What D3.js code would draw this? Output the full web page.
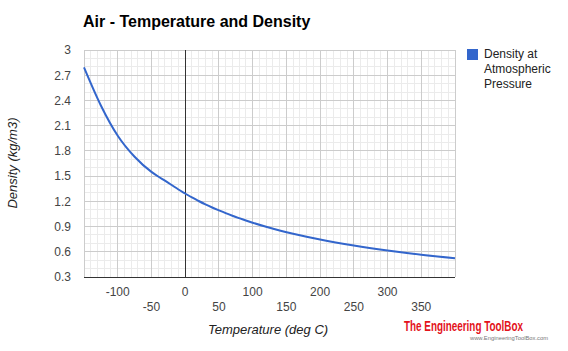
<!DOCTYPE html>
<html lang="en">
<head>
    <meta charset="UTF-8">
    <title>Air - Temperature and Density</title>
    <script src="https://cdn.jsdelivr.net/npm/d3@7/dist/d3.min.js"></script>
    <style>
        body { margin: 0; background: #fff; }
        text { font-family: Arial, "Liberation Sans", sans-serif; }
    </style>
</head>
<body>
    <svg width="568" height="351" id="mainsvg"></svg>
    <script>
        // temperature (deg C) and air density (kg/m3) at atmospheric pressure
        const temps = [-150, -125, -100, -75, -50, -40, -30, -20, -10, 0, 10, 20, 30, 40, 50, 60, 70, 80, 90, 100,
                       120, 140, 160, 180, 200, 250, 300, 350, 400]
        const density = [2.793, 2.340, 1.980, 1.730, 1.550, 1.495, 1.446, 1.394, 1.341, 1.293, 1.246, 1.204,
                         1.164, 1.127, 1.093, 1.060, 1.029, 1.000, 0.972, 0.946, 0.898, 0.854, 0.815, 0.779,
                         0.746, 0.675, 0.616, 0.566, 0.524]
        const xTicks = [-100, -50, 0, 50, 100, 150, 200, 250, 300, 350]
        const yTicks = [0.3, 0.6, 0.9, 1.2, 1.5, 1.8, 2.1, 2.4, 2.7, 3]
        const seriesName = ['Density at', 'Atmospheric', 'Pressure']

        const data = temps.map((t, i) => ({t: t, d: density[i]}))

        const svg = d3.select('#mainsvg')
        const plotL = 84, plotR = 455, plotT = 50, plotB = 277

        const x = d3.scaleLinear().domain([-150, 400]).range([plotL, plotR])
        const y = d3.scaleLinear().domain([0.3, 3]).range([plotB, plotT])

        // minor grid
        const g = svg.append('g')
        g.selectAll('.vminor').data(d3.range(-150, 401, 10))
            .join('line')
            .attr('x1', d => x(d)).attr('x2', d => x(d))
            .attr('y1', plotT).attr('y2', plotB)
            .attr('stroke', '#ebebeb').attr('shape-rendering', 'crispEdges')
        g.selectAll('.hminor').data(d3.range(3, 30, 1).map(d => d / 10))
            .join('line')
            .attr('x1', plotL).attr('x2', plotR)
            .attr('y1', d => y(d)).attr('y2', d => y(d))
            .attr('stroke', '#ebebeb').attr('shape-rendering', 'crispEdges')

        // major grid
        g.selectAll('.vmajor').data(d3.range(-150, 401, 50))
            .join('line')
            .attr('x1', d => x(d)).attr('x2', d => x(d))
            .attr('y1', plotT).attr('y2', plotB)
            .attr('stroke', '#cccccc').attr('shape-rendering', 'crispEdges')
        g.selectAll('.hmajor').data(yTicks)
            .join('line')
            .attr('x1', plotL).attr('x2', plotR)
            .attr('y1', d => y(d)).attr('y2', d => y(d))
            .attr('stroke', '#cccccc').attr('shape-rendering', 'crispEdges')

        // zero line and baseline
        g.append('line')
            .attr('x1', x(0)).attr('x2', x(0)).attr('y1', plotT).attr('y2', plotB)
            .attr('stroke', '#333').attr('shape-rendering', 'crispEdges')
        g.append('line')
            .attr('x1', plotL).attr('x2', plotR).attr('y1', y(0.3)).attr('y2', y(0.3))
            .attr('stroke', '#333').attr('shape-rendering', 'crispEdges')

        // y axis labels
        const yAxis = d3.axisLeft(y).tickValues(yTicks).tickSize(0).tickPadding(13)
            .tickFormat(d => d3.format('')(d))
        const ya = svg.append('g').attr('transform', `translate(${plotL},0)`).call(yAxis)
        ya.select('.domain').remove()
        ya.selectAll('text').attr('font-size', 12).attr('fill', '#444')
            .attr('font-family', 'Arial, "Liberation Sans", sans-serif')

        // x axis labels, staggered on two rows
        svg.append('g').selectAll('text').data(xTicks)
            .join('text')
            .attr('x', d => x(d))
            .attr('y', (d, i) => i % 2 === 0 ? 296 : 311)
            .attr('text-anchor', 'middle')
            .attr('font-size', 12).attr('fill', '#444')
            .text(d => d)

        // line
        const line = d3.line().x(d => x(d.t)).y(d => y(d.d)).curve(d3.curveMonotoneX)
        svg.append('path').datum(data)
            .attr('d', line)
            .attr('fill', 'none')
            .attr('stroke', '#3366cc')
            .attr('stroke-width', 2)

        // title
        svg.append('text').text('Air - Temperature and Density')
            .attr('x', 83).attr('y', 27)
            .attr('font-size', 16).attr('font-weight', 'bold').attr('fill', '#000')

        // axis titles
        svg.append('text').text('Temperature (deg C)')
            .attr('x', 268).attr('y', 334)
            .attr('text-anchor', 'middle')
            .attr('font-size', 13).attr('font-style', 'italic').attr('fill', '#222')
        svg.append('text').text('Density (kg/m3)')
            .attr('transform', 'translate(17,163) rotate(-90)')
            .attr('text-anchor', 'middle')
            .attr('font-size', 13).attr('font-style', 'italic').attr('fill', '#222')

        // legend
        svg.append('rect')
            .attr('x', 467).attr('y', 49).attr('width', 11).attr('height', 11)
            .attr('fill', '#3366cc')
        svg.append('g').selectAll('text').data(seriesName)
            .join('text')
            .attr('x', 484).attr('y', (d, i) => 58 + i * 15)
            .attr('font-size', 12).attr('fill', '#222')
            .text(d => d)

        // watermark
        svg.append('text').text('The Engineering ToolBox')
            .attr('x', 404).attr('y', 331)
            .attr('font-family', '"Liberation Sans Narrow", "DejaVu Sans Condensed", Arial, sans-serif')
            .attr('font-size', 15).attr('font-weight', 'bold').attr('fill', '#e3121b')
            .attr('textLength', 119).attr('lengthAdjust', 'spacingAndGlyphs')
        svg.append('text').text('www.EngineeringToolBox.com')
            .attr('x', 470).attr('y', 340)
            .attr('font-size', 5).attr('fill', '#777')
            .attr('textLength', 78).attr('lengthAdjust', 'spacingAndGlyphs')
    </script>
</body>
</html>
